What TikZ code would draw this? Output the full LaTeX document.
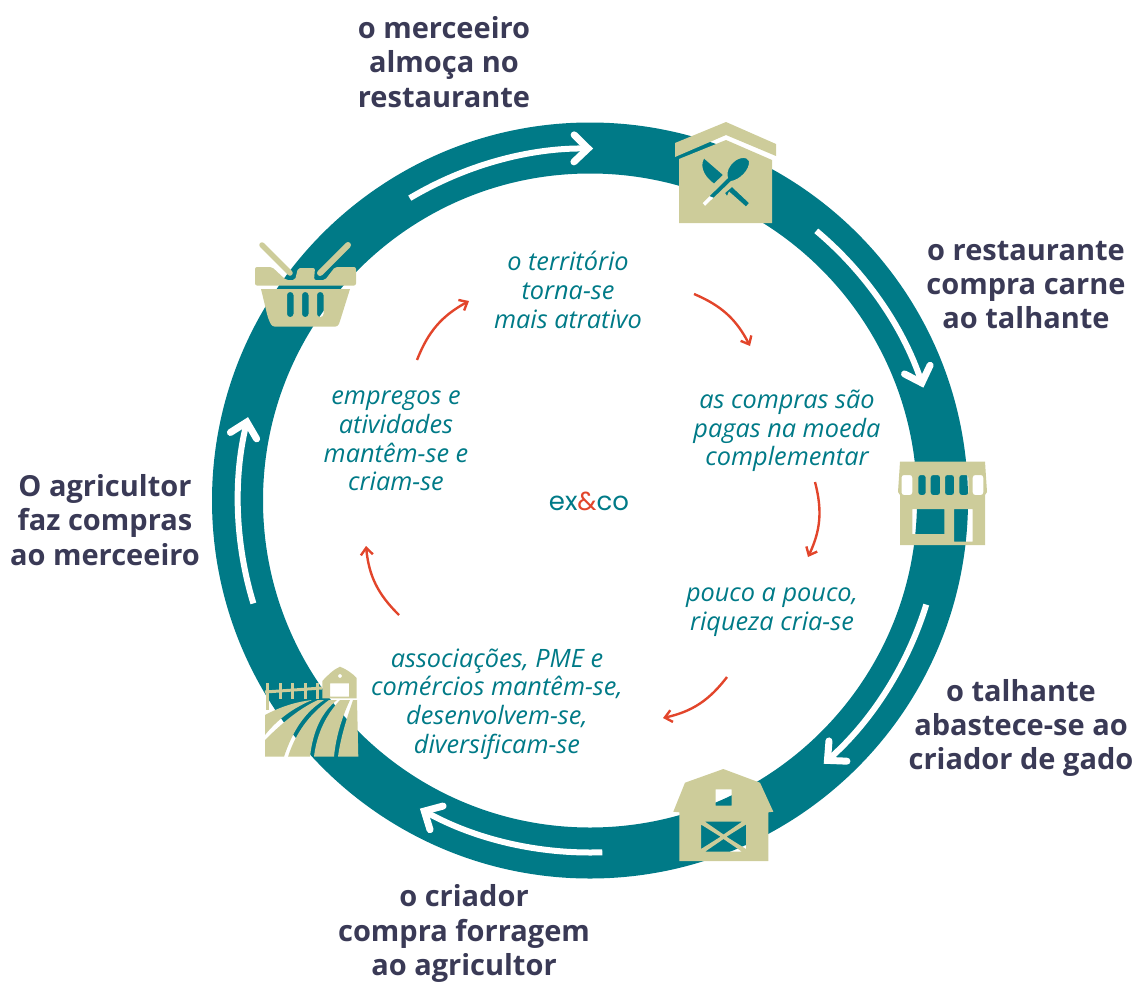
\documentclass[tikz,border=0pt]{standalone}
\usepackage{fontspec}
\usepackage{tikz}
\usetikzlibrary{arrows.meta}
\setmainfont{Open Sans}
\newfontfamily\logofont{Poppins}
\definecolor{ringteal}{HTML}{007A87}
\definecolor{iconbeige}{HTML}{CDCC9A}
\definecolor{stepdark}{HTML}{3A3A56}
\definecolor{flowred}{HTML}{E2452B}
\begin{document}
\begin{tikzpicture}[x = 1pt, y = 1pt, yscale = -1,
	steplabel/.style = {stepdark, align = center, inner sep = 0pt, font = \fontsize{29}{34.3}\selectfont\bfseries},
	flowlabel/.style = {ringteal, align = center, inner sep = 0pt, font = \fontsize{25.3}{28.7}\selectfont\itshape},
	ringarrow/.style = {white, line width = 6pt, -{Straight Barb[length = 14pt, width = 27pt, line width = 7pt, line cap = round, line join = miter]}},
	flowarrow/.style = {flowred, line width = 2.4pt, -{Straight Barb[length = 7pt, width = 12pt, line width = 2.4pt]}, bend right = 20},
	iconpart/.style = {fill = iconbeige, even odd rule}
]

\useasboundingbox (0,0) rectangle (1139,982);

%% Draw Ring

\coordinate (ringc) at (590,500.5);

\draw[ringteal, line width = 51pt] (ringc) circle (352.5);

\draw[ringarrow] ([shift = {(-120.8:352)}]ringc) arc (-120.8:-89.5:352);
\draw[ringarrow] ([shift = {(-50:352)}]ringc) arc (-50:-18.7:352);
\draw[ringarrow] ([shift = {(17.2:352)}]ringc) arc (17.2:48.4:352);
\draw[ringarrow] ([shift = {(88:352)}]ringc) arc (88:118.9:352);
\draw[ringarrow] ([shift = {(163:352)}]ringc) arc (163:193.7:352);

%% Draw Restaurant

\fill[iconpart] (675,143) -- (726,122) -- (776,144) -- (776,156) -- (726,135) -- (675,157) -- cycle;
\fill[iconpart] (679,159) -- (726,140) -- (772,160) -- (772,223) -- (679,223) -- cycle
	(704,158.5) -- (723,175) -- (714,183.5) .. controls (706,178) and (699,168) .. (704,158.5) -- cycle
	(725,193) -- (732,187) -- (749,203) -- (746,206.5) -- (729,191.5) -- (727,196) -- cycle
	(702.5,203) -- (705,206) -- (731,181) .. controls (739,180) and (750,170) .. (749,161)
		.. controls (747,156) and (737,157) .. (731,165) .. controls (727,170) and (727,175) .. (728,178) -- cycle;

%% Draw Basket

\fill[iconpart, rounded corners = 2pt] (255,267) -- (272,267) -- (286,280) -- (295,280) -- (298,268) -- (315,268)
	-- (314,280) -- (325,280) -- (335,267) -- (356,267) -- (356,285.5) -- (255,285.5) -- cycle;
\fill[iconpart] (261,289) -- (350,289) -- (340,321) [rounded corners = 3pt] -- (338,326.7) -- (272,326.7) -- (268,318) [sharp corners] -- cycle
	[rounded corners = 3pt] (287,292) rectangle (293.5,317)
	(302,292) rectangle (308.5,317)
	(317,292) rectangle (323.5,317);
\draw[iconbeige, line width = 5.5pt, line cap = round] (262,245) -- (290,273);
\draw[iconbeige, line width = 6pt, line cap = round] (348,245) -- (320,273);

%% Draw Store

\fill[iconpart] (900,461.7) -- (985,461.7) -- (987,492) -- (985,495) -- (985,545) -- (900,545) -- (900,495) -- (898,492) -- cycle
	(912.3,509) rectangle (944.3,534)
	(954,509) rectangle (972.7,541.7)
	[rounded corners = 2.5pt] (901.5,475) rectangle (912.3,495)
	(918.3,475) rectangle (925.7,495)
	(930.7,475) rectangle (940,495)
	(945,475) rectangle (954,495)
	(959.3,475) rectangle (968.3,495)
	(972.7,475) rectangle (983.3,495);

%% Draw Barn

\fill[iconpart] (723.3,769) -- (760,782.7) -- (773.3,811.7) -- (768.3,812.3) -- (768.3,861) -- (679.3,861) -- (679.3,812.3) -- (673.3,811.7) -- (685,782.7) -- cycle
	(715.7,789.3) rectangle (731.7,805.7)
	(705,821.7) -- (742,821.7) -- (723.5,834.5) -- cycle
	(701,824.5) -- (720.5,836.7) -- (701,849) -- cycle
	(746,824.5) -- (726.5,836.7) -- (746,849) -- cycle
	(705,851.7) -- (742,851.7) -- (723.5,839) -- cycle;

%% Draw Farm

\fill[iconpart] (322.3,698.3) -- (322.3,681) .. controls (328,675) and (334,669) .. (340,666.7) .. controls (346,669) and (352,673) .. (356.7,678) -- (356.7,698.3) -- cycle
	(330,683.3) rectangle (349,696.7)
	(340,676) circle (2);
\draw[iconbeige, line width = 3pt] (265,692) -- (322,688);
\foreach \a in {280, 292.7, 305, 317.7}{
	\draw[iconbeige, line width = 3pt] (\a,683) -- (\a,699);
}
\draw[iconbeige, line width = 3pt] (267.7,683) -- (267.7,710);

\fill[iconpart] (265,715) .. controls (280,707) and (295,702) .. (312,700) .. controls (298,706) and (280,716) .. (265,735) -- cycle;
\fill[iconpart] (265,740) .. controls (282,723) and (300,708) .. (318,700) -- (324,700) .. controls (305,712) and (293,730) .. (284,756.7) -- (265,756.7) -- cycle;
\fill[iconpart] (288,756.7) .. controls (296,732) and (310,714) .. (329,700) -- (337,700) .. controls (322,712) and (313,730) .. (310,756.7) -- cycle;
\fill[iconpart] (314,756.7) .. controls (317,732) and (327,714) .. (340,700) -- (350,700) .. controls (343,715) and (336,735) .. (334,756.7) -- cycle;
\fill[iconpart] (338,756.7) .. controls (341,735) and (348,715) .. (353,700) -- (357,700) -- (358.3,756.7) -- cycle;

%% Step labels

\node[steplabel] (lunch) at (444,62) {o merceeiro\\almoça no\\restaurante};
\node[steplabel] (meat) at (1026,285) {o restaurante\\compra carne\\ao talhante};
\node[steplabel] (supply) at (1021,728) {o talhante\\abastece-se ao\\criador de gado};
\node[steplabel] (fodder) at (464,933.5) {o criador\\compra forragem\\ao agricultor};
\node[steplabel] (shop) at (105,520) {O agricultor\\faz compras\\ao merceeiro};

%% Inner cycle

\node[flowlabel] (terr) at (568,290) {o território\\torna-se\\mais atrativo};
\node[flowlabel] (paid) at (787,431) {as compras são\\pagas na moeda\\complementar};
\node[flowlabel] (wealth) at (772,612) {pouco a pouco,\\riqueza cria-se};
\node[flowlabel] (assoc) at (497,704) {associações, PME e\\comércios mantêm-se,\\desenvolvem-se,\\diversificam-se};
\node[flowlabel] (jobs) at (396,441) {empregos e\\atividades\\mantêm-se e\\criam-se};

\node[inner sep = 0pt, ringteal, font = \fontsize{26}{30}\selectfont\logofont] (logo) at (589,501) {ex{\color{flowred}\&}co};

\coordinate (terrout) at (694,294);
\coordinate (paidin) at (750,346);
\coordinate (paidout) at (815,482);
\coordinate (wealthin) at (808,557);
\coordinate (wealthout) at (727,677);
\coordinate (associn) at (663,718);
\coordinate (assocout) at (399,615);
\coordinate (jobsin) at (366,546);
\coordinate (jobsout) at (417,360);
\coordinate (terrin) at (469,301);

\draw[flowarrow] (terrout) to (paidin);
\draw[flowarrow] (paidout) to (wealthin);
\draw[flowarrow] (wealthout) to (associn);
\draw[flowarrow] (assocout) to (jobsin);
\draw[flowarrow] (jobsout) to (terrin);

\end{tikzpicture}
\end{document}
